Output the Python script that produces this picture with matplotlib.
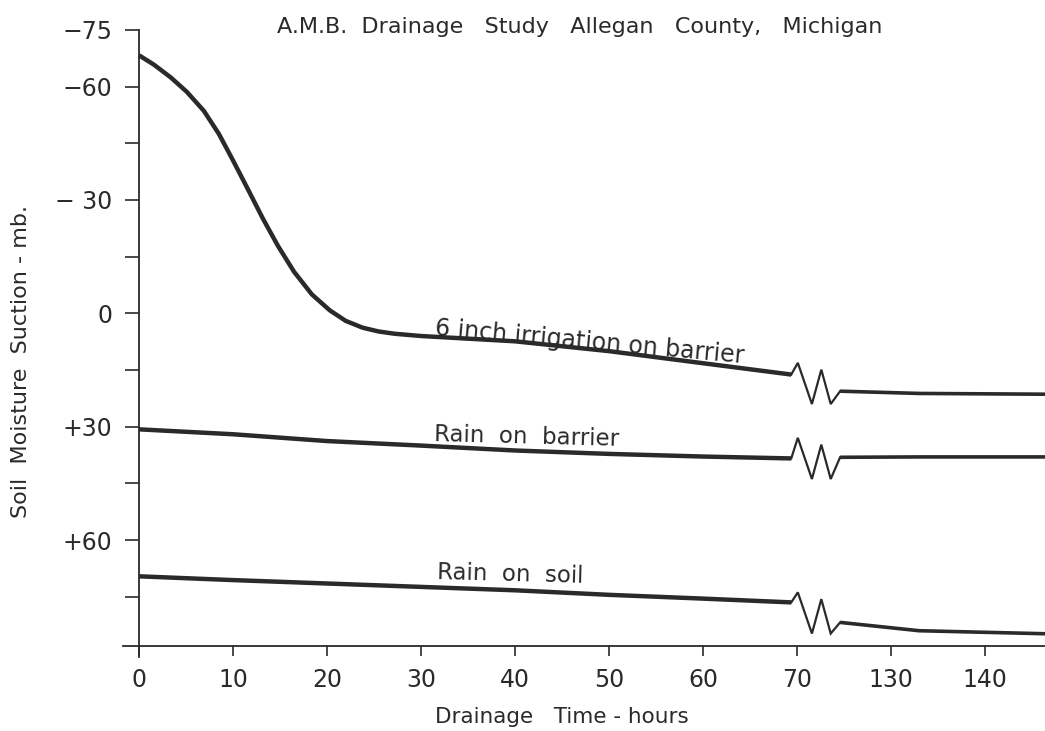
import matplotlib
matplotlib.use("Agg")
import matplotlib.pyplot as plt
import numpy as np

plt.rcParams['font.family'] = ['DejaVu Sans']

# hours before the axis break (0-70) and after it (130-146)
hours_pre = [0, 1.6, 3.4, 5.1, 6.9, 8.5, 10.0, 11.6, 13.2, 14.8, 16.5, 18.4,
             20.3, 22.0, 23.8, 25.5, 27.2, 30, 40, 50, 60, 69.4]
irrigation_pre = [-68.3, -65.8, -62.4, -58.6, -53.6, -47.5, -40.5, -32.8, -25.0,
                  -17.8, -11.0, -5.0, -0.8, 2.0, 3.8, 4.8, 5.4, 6.0, 7.4, 10.0,
                  13.2, 16.2]
hours_flat = [0, 10, 20, 30, 40, 50, 60, 69.4]
barrier_pre = [30.7, 32.0, 33.8, 35.0, 36.3, 37.2, 37.9, 38.4]
soil_pre = [69.6, 70.6, 71.5, 72.4, 73.3, 74.5, 75.5, 76.5]

hours_post = [124.6, 133, 146.4]
irrigation_post = [20.6, 21.2, 21.4]
barrier_post = [38.1, 38.0, 38.0]
soil_post = [81.8, 84.0, 84.8]

xtick_hours = [0, 10, 20, 30, 40, 50, 60, 70, 130, 140]
yticks = [-75, -60, -30, 0, 30, 60]
ytick_labels = ['\u221275', '\u221260', '\u2212 30', '0', '+30', '+60']
yminor = [-45, -15, 15, 45, 75]

INK = '#2a2a2a'
GAP = 50  # hours cut out of the axis between 70 and 130


def squeeze(h):
    h = np.asarray(h, dtype=float)
    return np.where(h > 70, h - GAP, h)


def zigzag(ax, x_end, y_end, x_start, y_start):
    base = (y_end + y_start) / 2
    zx = [x_end, 70.1, 71.6, 72.6, 73.6, x_start]
    zy = [y_end, base - 5.3, base + 5.6, base - 3.5, base + 5.6, y_start]
    ax.plot(zx, zy, color=INK, lw=1.6, solid_joinstyle='miter')


fig = plt.figure(figsize=(10.45, 7.31), dpi=100)
ax = fig.add_axes([0.1177, 0.101, 0.8823, 0.858])

series = [
    (hours_pre, irrigation_pre, irrigation_post),
    (hours_flat, barrier_pre, barrier_post),
    (hours_flat, soil_pre, soil_post),
]
for hrs, pre, post in series:
    ax.plot(squeeze(hrs), pre, color=INK, lw=3.2, solid_capstyle='butt',
            solid_joinstyle='round')
    ax.plot(squeeze(hours_post), post, color=INK, lw=2.6, solid_capstyle='butt')
    zigzag(ax, squeeze(hrs)[-1], pre[-1], squeeze(hours_post)[0], post[0])

ax.set_xlim(-1.7, 96.4)
ax.set_ylim(91, -75)
ax.spines['top'].set_visible(False)
ax.spines['right'].set_visible(False)
ax.spines['left'].set_position(('data', 0))
ax.spines['bottom'].set_position(('data', 88))
for s in ('left', 'bottom'):
    ax.spines[s].set_linewidth(1.3)
    ax.spines[s].set_color(INK)

ax.set_xticks(squeeze(xtick_hours))
ax.set_xticklabels([str(h) for h in xtick_hours])
ax.set_yticks(yticks)
ax.set_yticklabels(ytick_labels)
ax.set_yticks(yminor, minor=True)
ax.tick_params(axis='y', which='both', direction='out', length=10, width=1.2,
               pad=9, labelsize=17, colors=INK)
ax.tick_params(axis='x', direction='out', length=7, width=1.2, pad=9,
               labelsize=17, colors=INK)

ax.text(48.0, 7.5, '6 inch irrigation on barrier', fontsize=17, color=INK,
        ha='center', va='center', rotation=-5.2, rotation_mode='anchor')
ax.text(41.3, 32.6, 'Rain  on  barrier', fontsize=16.5, color=INK,
        ha='center', va='center', rotation=-1.5, rotation_mode='anchor')
ax.text(39.5, 69.0, 'Rain  on  soil', fontsize=16.5, color=INK,
        ha='center', va='center', rotation=-1.5, rotation_mode='anchor')

fig.text(0.555, 0.963, 'A.M.B.  Drainage   Study   Allegan   County,   Michigan',
         fontsize=16, color=INK, ha='center', va='center')
fig.text(0.538, 0.019, 'Drainage   Time - hours', fontsize=15.5, color=INK,
         ha='center', va='center')
fig.text(0.02, 0.505, 'Soil  Moisture  Suction - mb.', fontsize=16, color=INK,
         ha='center', va='center', rotation=90)

fig.savefig('out.png', dpi=100)
